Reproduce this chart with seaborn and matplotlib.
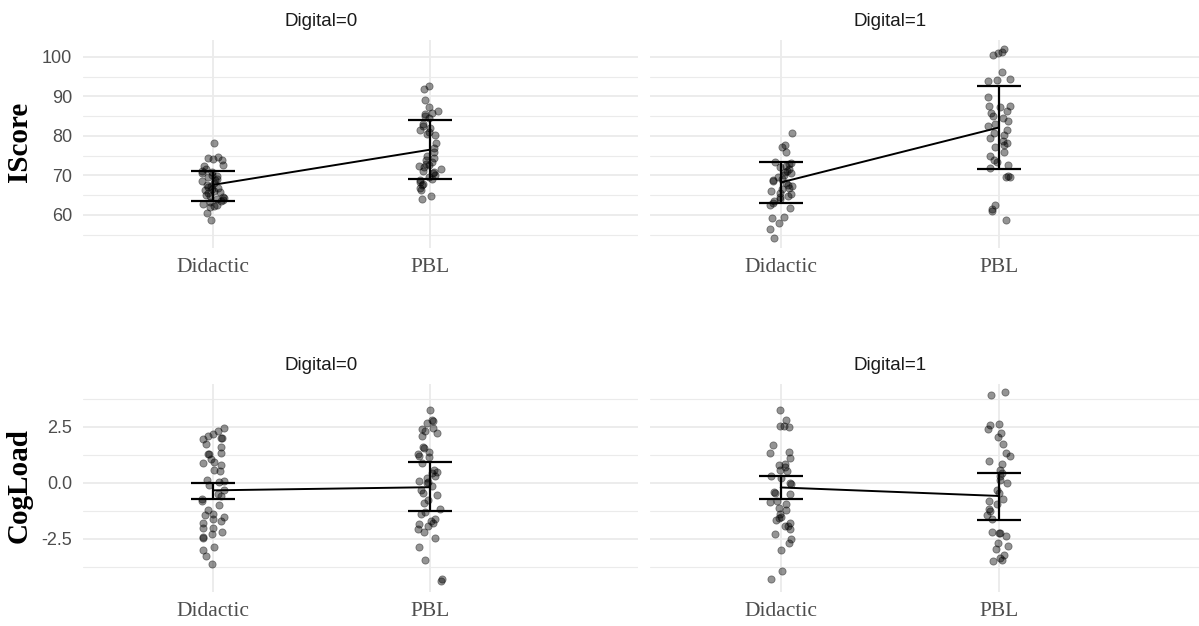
import numpy as np
import pandas as pd
import matplotlib
matplotlib.use("Agg")
import matplotlib.pyplot as plt
import matplotlib.transforms as mtrans
import seaborn as sns

sns.set_style("white")
plt.rcParams['font.family'] = ['Liberation Sans', 'DejaVu Sans']

groups = ["Didactic", "PBL"]

# IScore, Digital=0
iscore_d0_did = [78.3, 74.6, 74.5, 74.2, 73.9, 72.6, 72.3, 71.5, 71.0, 70.8, 70.5, 70.2, 69.8, 69.5,
                 69.2, 68.8, 68.5, 68.0, 67.6, 67.2, 67.0, 66.8, 66.5, 66.3, 66.0, 65.8, 65.5, 65.1,
                 64.8, 64.5, 64.2, 64.0, 63.8, 63.5, 63.2, 62.8, 62.5, 62.2, 62.0, 60.4, 58.7]
iscore_d0_pbl = [92.6, 92.0, 89.0, 87.3, 86.2, 85.8, 85.5, 85.0, 84.5, 83.0, 82.5, 82.0, 81.6, 81.0,
                 80.5, 80.2, 78.3, 77.0, 76.0, 75.0, 74.3, 73.8, 73.5, 73.0, 72.7, 72.3, 72.0, 71.5,
                 71.0, 70.8, 70.5, 70.0, 69.5, 69.0, 68.8, 68.2, 67.8, 67.5, 66.8, 66.2, 64.8, 63.9]
# IScore, Digital=1
iscore_d1_did = [80.8, 77.6, 77.3, 76.0, 73.5, 73.2, 72.8, 72.5, 72.0, 71.5, 71.2, 70.8, 70.5, 70.0,
                 69.5, 69.2, 68.8, 68.5, 68.0, 67.5, 67.2, 66.8, 66.5, 66.0, 65.6, 65.2, 64.8, 64.5,
                 64.0, 63.5, 63.0, 62.5, 61.8, 59.5, 59.3, 58.0, 56.3, 54.2]
iscore_d1_pbl = [101.9, 101.3, 100.9, 100.5, 96.3, 94.4, 94.2, 94.0, 89.9, 87.7, 87.5, 87.3, 86.3,
                 85.7, 85.0, 84.5, 83.9, 83.0, 82.4, 81.5, 80.8, 80.3, 79.4, 78.8, 78.2, 77.8, 77.3,
                 76.0, 74.8, 73.9, 73.5, 72.7, 71.8, 69.9, 69.7, 69.5, 62.5, 61.6, 61.1, 58.6]
# CogLoad, Digital=0
cog_d0_did = [2.45, 2.3, 2.2, 2.1, 2.0, 2.0, 1.95, 1.75, 1.6, 1.35, 1.3, 1.3, 1.05, 0.95, 0.9, 0.8,
              0.6, 0.55, 0.15, 0.1, 0.05, -0.1, -0.3, -0.5, -0.6, -0.7, -0.8, -1.0, -1.2, -1.4,
              -1.45, -1.5, -1.6, -1.7, -1.8, -2.0, -2.0, -2.2, -2.3, -2.4, -2.45, -2.85, -3.0,
              -3.25, -3.6]
cog_d0_pbl = [3.25, 2.8, 2.75, 2.7, 2.45, 2.4, 2.3, 2.25, 2.1, 1.6, 1.55, 1.4, 1.3, 1.2, 1.15, 0.9,
              0.6, 0.5, 0.45, 0.3, 0.2, 0.1, 0.05, 0.0, -0.15, -0.3, -0.45, -0.55, -0.9, -0.75,
              -1.15, -1.3, -1.4, -1.6, -1.7, -1.8, -1.85, -1.9, -2.05, -2.2, -2.45, -2.85, -3.45,
              -4.3, -4.4]
# CogLoad, Digital=1
cog_d1_did = [3.25, 2.8, 2.55, 2.55, 2.5, 1.7, 1.4, 1.35, 1.1, 0.85, 0.8, 0.7, 0.6, 0.55, 0.3, 0.2,
              0.0, -0.05, -0.4, -0.45, -0.5, -0.8, -0.85, -0.95, -1.1, -1.2, -1.4, -1.5, -1.55,
              -1.65, -1.8, -1.9, -1.9, -2.05, -2.3, -2.5, -2.7, -3.0, -3.95, -4.3]
cog_d1_pbl = [4.05, 3.95, 2.65, 2.6, 2.4, 2.25, 2.05, 1.75, 1.35, 1.2, 1.0, 0.85, 0.6, 0.45, 0.3,
              0.15, 0.0, -0.3, -0.45, -0.7, -0.8, -0.95, -1.15, -1.25, -1.45, -1.6, -2.2, -2.25,
              -2.25, -2.35, -2.7, -2.8, -2.95, -3.2, -3.35, -3.45, -3.5]

# mean and error bar limits (Didactic, PBL)
iscore_d0_mean = [67.6, 76.5]; iscore_d0_lo = [63.5, 69.1]; iscore_d0_hi = [71.1, 84.0]
iscore_d1_mean = [68.2, 82.1]; iscore_d1_lo = [62.9, 71.6]; iscore_d1_hi = [73.3, 92.6]
cog_d0_mean = [-0.33, -0.19]; cog_d0_lo = [-0.70, -1.27]; cog_d0_hi = [0.00, 0.92]
cog_d1_mean = [-0.20, -0.58]; cog_d1_lo = [-0.70, -1.65]; cog_d1_hi = [0.30, 0.45]

panels = [
    # (row, col, did, pbl, mean, lo, hi)
    (0, 0, iscore_d0_did, iscore_d0_pbl, iscore_d0_mean, iscore_d0_lo, iscore_d0_hi),
    (0, 1, iscore_d1_did, iscore_d1_pbl, iscore_d1_mean, iscore_d1_lo, iscore_d1_hi),
    (1, 0, cog_d0_did, cog_d0_pbl, cog_d0_mean, cog_d0_lo, cog_d0_hi),
    (1, 1, cog_d1_did, cog_d1_pbl, cog_d1_mean, cog_d1_lo, cog_d1_hi),
]

W, H = 1199, 626
fig = plt.figure(figsize=(W / 100, H / 100), dpi=100)

col_px = [(83, 638), (650, 1199)]
row_px = [(40, 248), (384, 592)]
xlims = [(-0.6, 1.96), (-0.6, 1.92)]
ylims = [(51.6, 104.3), (-4.87, 4.42)]
yticks = [[60, 70, 80, 90, 100], [-2.5, 0.0, 2.5]]
yminor = [[55, 65, 75, 85, 95], [-3.75, -1.25, 1.25, 3.75]]
ylabels = ["IScore", "CogLoad"]

np.random.seed(3)
grid_c = "#ebebeb"

for row, col, did, pbl, mean, lo, hi in panels:
    x0, x1 = col_px[col]
    y0, y1 = row_px[row]
    ax = fig.add_axes([x0 / W, 1 - y1 / H, (x1 - x0) / W, (y1 - y0) / H])
    df = pd.DataFrame({
        "Method": ["Didactic"] * len(did) + ["PBL"] * len(pbl),
        "value": did + pbl,
    })
    sns.stripplot(data=df, x="Method", y="value", order=groups, jitter=0.055, size=5.2,
                  color="black", alpha=0.42, linewidth=0.6, edgecolor="black", ax=ax, zorder=2)
    mean = np.array(mean); lo = np.array(lo); hi = np.array(hi)
    ax.errorbar([0, 1], mean, yerr=[mean - lo, hi - mean], fmt="-", color="black",
                linewidth=1.4, elinewidth=1.6, capsize=16, capthick=1.6, zorder=4)

    ax.set_xlim(*xlims[col])
    ax.set_ylim(*ylims[row])
    ax.set_yticks(yticks[row])
    ax.set_yticks(yminor[row], minor=True)
    if row == 1:
        ax.set_yticklabels(["-2.5", "0.0", "2.5"])
    ax.grid(True, which="major", axis="both", color=grid_c, linewidth=1.3, zorder=0)
    ax.grid(True, which="minor", axis="y", color=grid_c, linewidth=0.8, zorder=0)
    ax.set_axisbelow(True)
    for s in ax.spines.values():
        s.set_visible(False)
    ax.set_xlabel("")
    ax.set_ylabel("")
    ax.tick_params(axis="both", which="both", length=0)
    ax.tick_params(axis="y", labelsize=13, labelcolor="#4d4d4d", pad=8)
    ax.tick_params(axis="x", labelsize=15.5, labelcolor="#4d4d4d", pad=7)
    for lab in ax.get_xticklabels():
        lab.set_family(["Liberation Serif", "DejaVu Serif"])
    if col == 1:
        ax.set_yticklabels([])

    tr = mtrans.blended_transform_factory(ax.transData, ax.transAxes)
    ax.text(0.5, 1 + 19 / (y1 - y0), "Digital=%d" % col, transform=tr, ha="center", va="center",
            fontsize=13.5, color="#1a1a1a")

for row in range(2):
    y0, y1 = row_px[row]
    fig.text(19 / W, 1 - ((y0 + y1) / 2 - 2) / H, ylabels[row], rotation=90, ha="center",
             va="center", fontsize=21, fontweight="bold",
             family=["Liberation Serif", "DejaVu Serif"], color="black")

fig.savefig("out.png", dpi=100, facecolor="white")
